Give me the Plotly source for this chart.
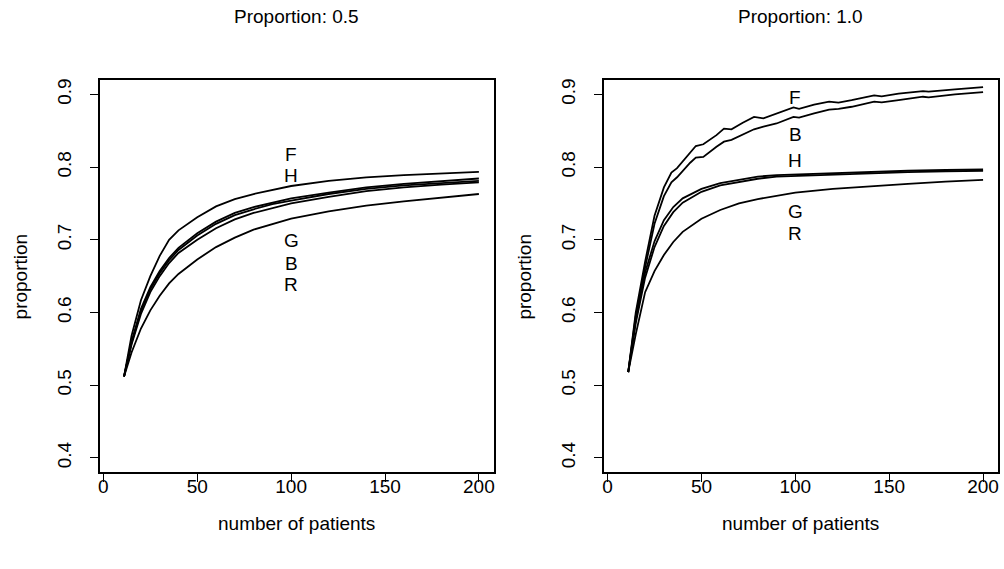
import plotly.graph_objects as go

W, H = 1004, 569

# ---- data ----
n_patients = [11, 15, 20, 25, 30, 35, 40, 50, 60, 70, 80, 90, 100, 120, 140, 160, 180, 200]

left_F = [0.512, 0.568, 0.617, 0.650, 0.678, 0.700, 0.713, 0.731, 0.746, 0.756, 0.763, 0.769, 0.774, 0.781, 0.786, 0.789, 0.791, 0.7935]
left_H = [0.512, 0.560, 0.605, 0.635, 0.657, 0.675, 0.689, 0.709, 0.725, 0.737, 0.745, 0.751, 0.757, 0.765, 0.772, 0.777, 0.781, 0.7843]
left_G = [0.512, 0.558, 0.602, 0.632, 0.654, 0.672, 0.686, 0.706, 0.722, 0.734, 0.742, 0.749, 0.754, 0.763, 0.770, 0.775, 0.778, 0.7811]
left_B = [0.512, 0.556, 0.598, 0.628, 0.650, 0.668, 0.682, 0.700, 0.716, 0.728, 0.737, 0.744, 0.750, 0.759, 0.767, 0.772, 0.776, 0.7789]
left_R = [0.512, 0.545, 0.578, 0.603, 0.623, 0.640, 0.653, 0.673, 0.690, 0.703, 0.714, 0.722, 0.729, 0.739, 0.747, 0.753, 0.758, 0.763]

# right panel: F and B are noisier, read at finer x positions
n_patients_fine = [11, 15, 20, 25, 30, 34, 37, 44, 47, 51, 58, 62, 66, 72, 78, 83, 90, 99, 102, 110, 118, 123, 130, 142, 146, 155, 168, 171, 185, 200]
right_F = [0.518, 0.600, 0.670, 0.733, 0.772, 0.7926, 0.7985, 0.820, 0.829, 0.8314, 0.844, 0.853, 0.852, 0.861, 0.869, 0.867, 0.874, 0.882, 0.880, 0.886, 0.890, 0.8886, 0.892, 0.8986, 0.8973, 0.901, 0.9046, 0.9037, 0.907, 0.910]
right_B = [0.518, 0.595, 0.662, 0.722, 0.760, 0.779, 0.786, 0.806, 0.813, 0.814, 0.828, 0.835, 0.8374, 0.845, 0.852, 0.8557, 0.860, 0.869, 0.868, 0.874, 0.879, 0.880, 0.883, 0.890, 0.889, 0.892, 0.8968, 0.896, 0.900, 0.903]
right_H = [0.518, 0.590, 0.655, 0.698, 0.727, 0.745, 0.757, 0.770, 0.778, 0.783, 0.787, 0.789, 0.790, 0.792, 0.794, 0.795, 0.796, 0.7967]
right_G = [0.518, 0.585, 0.648, 0.690, 0.719, 0.738, 0.751, 0.766, 0.775, 0.780, 0.784, 0.787, 0.788, 0.790, 0.792, 0.793, 0.794, 0.795]
right_R = [0.518, 0.570, 0.628, 0.657, 0.679, 0.697, 0.711, 0.729, 0.741, 0.750, 0.756, 0.761, 0.765, 0.770, 0.774, 0.777, 0.780, 0.7825]

label_names_left = ["F", "H", "G", "B", "R"]
label_y_left = [0.818, 0.788, 0.699, 0.668, 0.638]
label_names_right = ["F", "B", "H", "G", "R"]
label_y_right = [0.8954, 0.8442, 0.8095, 0.7386, 0.709]
label_x = 100

panel_titles = ["Proportion: 0.5", "Proportion: 1.0"]
x_title = "number of patients"
y_title = "proportion"
x_ticks = [0, 50, 100, 150, 200]
y_ticks = [0.4, 0.5, 0.6, 0.7, 0.8, 0.9]

FONT = "Liberation Sans, Arial, sans-serif"
FS = 19

# plot-area pixel geometry
L1, R1 = 98.3, 493.0
L2, R2 = 604.0, 998.7
TOP, BOT = 79.0, 472.3

fig = go.Figure()
line = dict(color="black", width=1.8)
for ys in [left_F, left_H, left_G, left_B, left_R]:
    fig.add_trace(go.Scatter(x=n_patients, y=ys, mode="lines", line=line,
                             xaxis="x", yaxis="y", showlegend=False, hoverinfo="skip"))
for ys in [right_F, right_B]:
    fig.add_trace(go.Scatter(x=n_patients_fine, y=ys, mode="lines", line=line,
                             xaxis="x2", yaxis="y2", showlegend=False, hoverinfo="skip"))
for ys in [right_H, right_G, right_R]:
    fig.add_trace(go.Scatter(x=n_patients, y=ys, mode="lines", line=line,
                             xaxis="x2", yaxis="y2", showlegend=False, hoverinfo="skip"))

annotations = []
for name, yv in zip(label_names_left, label_y_left):
    annotations.append(dict(x=label_x, y=yv, xref="x", yref="y", text=name,
                            showarrow=False, font=dict(family=FONT, size=FS, color="black")))
for name, yv in zip(label_names_right, label_y_right):
    annotations.append(dict(x=label_x, y=yv, xref="x2", yref="y2", text=name,
                            showarrow=False, font=dict(family=FONT, size=FS, color="black")))

for (l, r), t in zip([(L1, R1), (L2, R2)], panel_titles):
    cx = (l + r) / 2 / W
    annotations.append(dict(x=cx, y=1 - 15.5 / H, xref="paper", yref="paper", text=t,
                            showarrow=False, xanchor="center", yanchor="middle",
                            font=dict(family=FONT, size=FS, color="black")))
    annotations.append(dict(x=cx, y=1 - 523 / H, xref="paper", yref="paper", text=x_title,
                            showarrow=False, xanchor="center", yanchor="middle",
                            font=dict(family=FONT, size=FS, color="black")))
    annotations.append(dict(x=(l - 80) / W, y=1 - (TOP + BOT) / 2 / H, xref="paper", yref="paper",
                            text=y_title, textangle=-90, showarrow=False,
                            xanchor="center", yanchor="middle",
                            font=dict(family=FONT, size=FS, color="black")))

xax = dict(range=[-1.8, 207.8], tickmode="array", tickvals=x_ticks,
           ticktext=[str(v) for v in x_ticks], ticks="outside", ticklen=8, tickwidth=1.2,
           tickcolor="black", showline=True, linecolor="black", linewidth=1.5, mirror=True,
           showgrid=False, zeroline=False, tickfont=dict(family=FONT, size=FS, color="black"),
           ticklabelstandoff=-12, fixedrange=True)
yax = dict(range=[0.38, 0.92], tickmode="array", tickvals=y_ticks,
           ticktext=[f"{v:.1f}" for v in y_ticks], tickangle=-90, ticks="outside", ticklen=8,
           tickwidth=1.2, tickcolor="black", showline=True, linecolor="black", linewidth=1.5,
           mirror=True, showgrid=False, zeroline=False,
           tickfont=dict(family=FONT, size=FS, color="black"), ticklabelstandoff=12,
           fixedrange=True)

fig.update_layout(
    width=W, height=H,
    margin=dict(l=0, r=0, t=0, b=0),
    paper_bgcolor="white", plot_bgcolor="white",
    xaxis=dict(xax, domain=[L1 / W, R1 / W], anchor="y"),
    yaxis=dict(yax, domain=[1 - BOT / H, 1 - TOP / H], anchor="x"),
    xaxis2=dict(xax, domain=[L2 / W, R2 / W], anchor="y2"),
    yaxis2=dict(yax, domain=[1 - BOT / H, 1 - TOP / H], anchor="x2"),
    annotations=annotations,
    showlegend=False,
)

fig.write_html("out.html", config={"displayModeBar": False})
